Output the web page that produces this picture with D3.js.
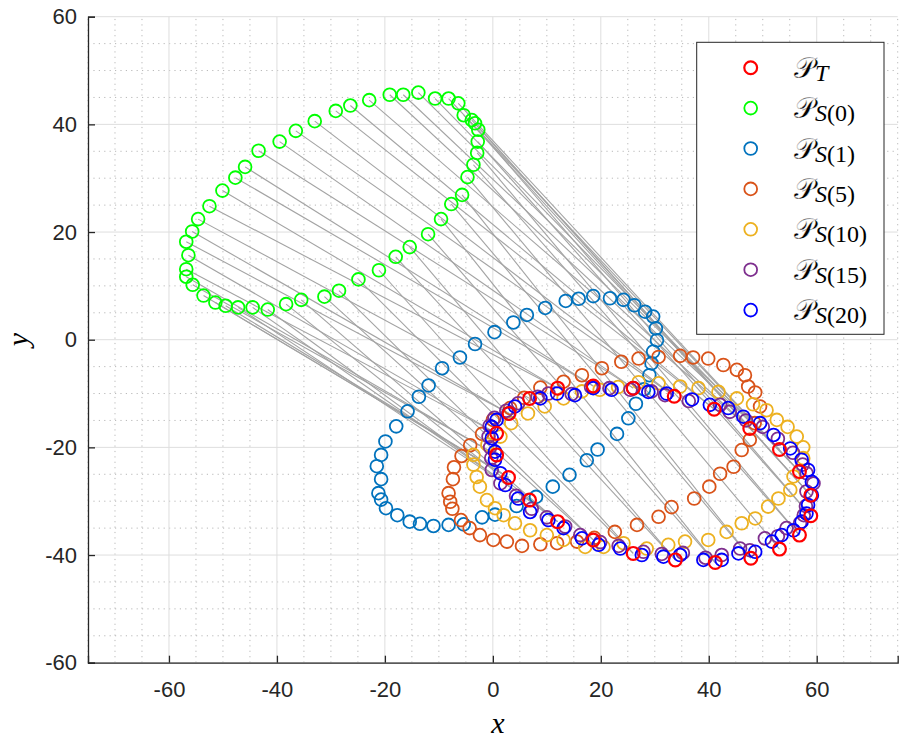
<!DOCTYPE html>
<html><head><meta charset="utf-8">
<script src="https://cdn.jsdelivr.net/npm/d3@7"></script>
<style>body{margin:0;background:#fff} svg{display:block}</style>
</head><body>
<svg id="chart" width="899" height="738"></svg>
<script>
// Target point set P_T
const pT = [[0.7,-17.4],[3.0,-13.7],[6.8,-10.9],[12.0,-9.0],[18.6,-8.6],[26.0,-9.0],[33.6,-10.5],[41.0,-12.9],[47.6,-16.5],[53.1,-20.4],[56.8,-24.5],[58.9,-28.9],[58.9,-32.7],[56.8,-36.3],[53.1,-38.9],[47.8,-40.6],[41.2,-41.4],[33.8,-40.9],[26.0,-39.7],[18.6,-37.2],[12.0,-33.8],[6.8,-29.8],[2.9,-25.6],[0.7,-21.4]];

// Source point set, initial pose S(0)
const pS0 = [[-19.1,45.5],[-16.6,45.5],[-13.8,45.9],[-10.7,44.8],[-8.2,44.8],[-6.4,43.9],[-5.4,41.7],[-3.9,40.8],[-3.3,40.2],[-2.7,39.0],[-2.8,36.8],[-2.9,34.7],[-3.6,32.5],[-4.7,30.2],[-5.7,26.9],[-7.7,25.2],[-9.6,22.4],[-12.0,19.6],[-15.4,17.2],[-18.0,15.4],[-21.1,12.9],[-24.9,11.2],[-28.5,9.1],[-31.2,8.0],[-35.5,7.4],[-38.3,6.6],[-41.7,5.6],[-44.5,6.0],[-47.2,6.0],[-49.5,6.3],[-51.4,6.9],[-53.6,8.2],[-55.6,10.2],[-56.8,11.7],[-56.8,13.1],[-56.4,15.7],[-56.8,18.2],[-55.7,20.1],[-54.6,22.4],[-52.5,24.8],[-50.1,27.7],[-47.7,30.1],[-45.9,32.1],[-43.4,35.1],[-39.5,36.8],[-36.5,38.8],[-33.0,40.6],[-29.1,42.5],[-26.4,43.5],[-22.9,44.5]];

// Index of the target point matched to each S(0) point
const pairs = [8,9,9,10,10,10,11,11,11,12,12,13,13,14,15,15,16,16,17,17,18,18,19,19,20,20,20,21,21,22,22,22,23,23,0,0,1,1,2,3,3,4,4,5,5,6,6,7,7,8];

// Iteration 1
const pS1 = [[-20.7,-21.4],[-19.9,-18.9],[-17.9,-16.1],[-15.8,-13.3],[-13.7,-10.6],[-11.9,-8.5],[-9.4,-5.3],[-6.1,-3.3],[-3.3,-0.8],[0.3,1.4],[3.8,3.2],[6.3,4.6],[9.7,5.9],[13.5,7.2],[15.9,7.6],[18.6,8.1],[21.7,7.7],[24.2,7.4],[26.2,6.4],[28.2,5.2],[29.7,4.3],[30.2,2.1],[30.4,-0.1],[29.7,-2.2],[29.4,-4.4],[29.0,-6.6],[28.0,-9.2],[26.5,-11.9],[25.1,-14.6],[23.0,-17.5],[19.4,-20.4],[17.4,-22.4],[14.2,-25.1],[11.1,-27.3],[8.0,-29.2],[4.4,-30.9],[0.4,-32.5],[-2.0,-33.0],[-5.4,-34.3],[-8.2,-34.4],[-11.0,-34.6],[-13.5,-34.2],[-15.4,-33.8],[-17.7,-32.6],[-19.8,-31.3],[-20.7,-29.7],[-21.2,-28.5],[-20.7,-25.9],[-21.5,-23.5]];

// Iteration 5
const pS5 = [[0.0,-14.9],[3.2,-12.7],[5.8,-10.8],[8.8,-8.9],[13.1,-7.8],[16.5,-6.6],[20.2,-5.3],[23.8,-4.1],[27.0,-3.5],[30.7,-3.2],[34.7,-3.0],[37.1,-3.3],[39.9,-3.5],[42.7,-4.7],[45.2,-5.6],[46.7,-6.6],[47.3,-8.7],[48.6,-9.8],[49.5,-12.4],[48.5,-15.5],[47.6,-18.6],[46.1,-20.5],[44.6,-23.6],[42.1,-24.9],[40.1,-27.3],[37.3,-29.5],[33.1,-31.1],[30.7,-32.9],[26.7,-34.4],[22.6,-35.7],[18.8,-36.8],[15.6,-37.5],[11.9,-37.8],[8.8,-38.0],[5.4,-38.3],[2.6,-37.5],[0.1,-37.2],[-2.4,-36.3],[-4.3,-35.0],[-5.9,-33.5],[-7.5,-31.4],[-7.9,-30.1],[-8.2,-28.5],[-7.4,-25.9],[-7.2,-23.7],[-5.8,-21.6],[-4.2,-19.6],[-2.0,-17.5]];

// Iteration 10
const pS10 = [[1.4,-18.0],[3.4,-15.5],[6.5,-13.7],[9.6,-12.4],[13.1,-10.9],[16.5,-9.6],[19.8,-9.3],[23.2,-8.8],[27.0,-7.9],[30.7,-8.1],[34.7,-8.7],[38.1,-9.0],[41.8,-9.7],[45.2,-10.9],[48.2,-12.0],[50.7,-13.1],[52.6,-14.9],[54.6,-16.2],[56.3,-18.0],[57.5,-20.0],[57.5,-22.0],[55.7,-25.4],[55.1,-27.9],[52.9,-29.5],[51.0,-31.0],[48.6,-33.2],[46.1,-34.1],[43.3,-35.7],[39.9,-37.2],[35.6,-37.5],[32.5,-38.1],[28.5,-38.8],[24.2,-37.8],[20.5,-38.5],[17.1,-38.5],[13.1,-37.2],[10.0,-36.3],[6.9,-35.4],[4.1,-34.1],[2.0,-32.6],[0.4,-31.3],[-1.1,-29.8],[-2.4,-27.3],[-3.0,-25.5],[-3.6,-23.2],[-3.6,-21.4],[-1.0,-19.5]];

// Iteration 15
const pS15 = [[-0.8,-18.0],[-0.6,-16.0],[0.3,-14.5],[2.5,-13.2],[4.7,-11.8],[8.3,-10.6],[10.3,-10.0],[14.6,-10.1],[18.2,-8.8],[21.6,-9.0],[25.5,-9.3],[29.4,-9.6],[31.9,-10.3],[36.3,-11.4],[42.1,-12.1],[43.9,-13.4],[46.9,-15.0],[50.0,-16.2],[52.8,-18.4],[55.6,-21.0],[57.4,-23.2],[58.1,-24.8],[59.4,-26.7],[58.1,-28.2],[58.0,-30.9],[57.6,-32.6],[56.9,-34.1],[54.4,-35.0],[52.8,-36.5],[50.4,-36.9],[47.6,-39.1],[45.8,-38.8],[42.4,-40.0],[39.4,-40.5],[35.2,-39.6],[31.3,-39.8],[27.9,-39.4],[23.3,-38.3],[19.9,-37.6],[16.2,-36.3],[13.4,-34.7],[10.0,-33.0],[7.2,-31.4],[4.3,-29.0],[1.4,-26.7],[-0.2,-24.2],[-0.3,-22.0],[-0.5,-20.0]];

// Iteration 20
const pS20 = [[-0.2,-18.3],[-0.2,-16.2],[0.7,-14.9],[2.9,-13.7],[4.1,-12.4],[8.8,-10.9],[11.9,-10.0],[15.2,-10.3],[18.6,-9.0],[22.0,-9.3],[26.0,-9.0],[28.8,-9.7],[32.2,-10.0],[36.9,-11.1],[40.2,-12.1],[43.6,-12.7],[46.4,-14.3],[49.5,-15.5],[52.0,-17.7],[55.1,-20.2],[57.2,-22.3],[58.4,-24.2],[59.1,-26.4],[59.1,-28.9],[58.4,-30.7],[58.1,-32.3],[57.2,-33.8],[55.7,-35.4],[53.5,-36.3],[51.7,-37.5],[48.6,-39.4],[45.5,-39.7],[42.4,-40.9],[39.0,-40.9],[34.7,-40.0],[31.6,-40.3],[27.6,-40.0],[23.6,-38.8],[19.6,-38.1],[16.5,-36.9],[13.1,-35.0],[10.3,-33.5],[6.9,-32.0],[4.7,-29.5],[2.3,-27.0],[1.4,-24.8],[0.4,-22.3],[0.4,-20.8]];

const xTicks = [-60,-40,-20,0,20,40,60];
const yTicks = [-60,-40,-20,0,20,40,60];

const legendRows = [
  {sub:[["T","i"]], color:"#ff0000", pts:pT},
  {sub:[["S","i"],["(0)","n"]], color:"#00ff00", pts:pS0},
  {sub:[["S","i"],["(1)","n"]], color:"#0072bd", pts:pS1},
  {sub:[["S","i"],["(5)","n"]], color:"#d95319", pts:pS5},
  {sub:[["S","i"],["(10)","n"]], color:"#edb120", pts:pS10},
  {sub:[["S","i"],["(15)","n"]], color:"#7e2f8e", pts:pS15},
  {sub:[["S","i"],["(20)","n"]], color:"#0000ff", pts:pS20}
];

const svg = d3.select("#chart");
const x = d3.scaleLinear().domain([-75, 75]).range([88, 897.7]);
const y = d3.scaleLinear().domain([-60, 60]).range([662.7, 16.7]);

// grid: dotted minor every 5, solid major every 20
const minor = d3.range(-75, 76, 5).filter(v => v % 20 !== 0);
const minorY = d3.range(-60, 61, 5).filter(v => v % 20 !== 0);
const grid = svg.append("g");
grid.selectAll(".mx").data(minor).join("line")
  .attr("x1", d => x(d)).attr("x2", d => x(d)).attr("y1", y(-60)).attr("y2", y(60))
  .attr("stroke", "#b8b8b8").attr("stroke-width", 1).attr("stroke-dasharray", "1.2,4.2");
grid.selectAll(".my").data(minorY).join("line")
  .attr("y1", d => y(d)).attr("y2", d => y(d)).attr("x1", x(-75)).attr("x2", x(75))
  .attr("stroke", "#b8b8b8").attr("stroke-width", 1).attr("stroke-dasharray", "1.2,4.2");
grid.selectAll(".Mx").data(xTicks).join("line")
  .attr("x1", d => x(d)).attr("x2", d => x(d)).attr("y1", y(-60)).attr("y2", y(60))
  .attr("stroke", "#dedede").attr("stroke-width", 1);
grid.selectAll(".My").data(yTicks).join("line")
  .attr("y1", d => y(d)).attr("y2", d => y(d)).attr("x1", x(-75)).attr("x2", x(75))
  .attr("stroke", "#dedede").attr("stroke-width", 1);

// correspondence lines S(0) -> T
svg.append("g").selectAll("line").data(pS0).join("line")
  .attr("x1", d => x(d[0])).attr("y1", d => y(d[1]))
  .attr("x2", (d, i) => x(pT[pairs[i]][0])).attr("y2", (d, i) => y(pT[pairs[i]][1]))
  .attr("stroke", "#a3a3a3").attr("stroke-width", 1.1);

// point sets: iterations first, target on top
const drawOrder = [1, 2, 3, 4, 5, 6, 0];
drawOrder.forEach(k => {
  const s = legendRows[k];
  svg.append("g").selectAll("circle").data(s.pts).join("circle")
    .attr("cx", d => x(d[0])).attr("cy", d => y(d[1])).attr("r", 6.4)
    .attr("fill", "none").attr("stroke", s.color).attr("stroke-width", k === 0 ? 2.2 : 1.8);
});

// axes
const tickFont = "'Liberation Sans', Arial, Helvetica, sans-serif";
const ax = svg.append("g").attr("transform", `translate(0,${y(-60)})`)
  .call(d3.axisBottom(x).tickValues(xTicks).tickSize(-7).tickPadding(19).tickFormat(d => String(d)));
const ay = svg.append("g").attr("transform", `translate(${x(-75)},0)`)
  .call(d3.axisLeft(y).tickValues(yTicks).tickSize(-7).tickPadding(11).tickFormat(d => String(d)));
[ax, ay].forEach(g => {
  g.select(".domain").attr("stroke", "#262626").attr("stroke-width", 1.3);
  g.selectAll(".tick line").attr("stroke", "#262626").attr("stroke-width", 1.3);
  g.selectAll(".tick text").attr("fill", "#262626").attr("font-family", tickFont).attr("font-size", 22);
});

// axis titles
svg.append("text").attr("x", x(0) + 5).attr("y", 733).attr("text-anchor", "middle")
  .attr("font-family", "'Liberation Serif', 'Times New Roman', serif").attr("font-style", "italic")
  .attr("font-size", 30).attr("fill", "#000").text("x");
svg.append("text").attr("transform", `translate(28,${y(0)}) rotate(-90)`).attr("text-anchor", "middle")
  .attr("font-family", "'Liberation Serif', 'Times New Roman', serif").attr("font-style", "italic")
  .attr("font-size", 30).attr("fill", "#000").text("y");

// legend
const lg = svg.append("g");
lg.append("rect").attr("x", 696.7).attr("y", 42.3).attr("width", 187.3).attr("height", 292)
  .attr("fill", "#fff").attr("stroke", "#262626").attr("stroke-width", 1);
legendRows.forEach((r, i) => {
  const cy = 67.7 + i * 40.4;
  lg.append("circle").attr("cx", 750.7).attr("cy", cy).attr("r", 6.4)
    .attr("fill", "none").attr("stroke", r.color).attr("stroke-width", i === 0 ? 2.2 : 1.8);
  const t = lg.append("text").attr("x", 794).attr("y", cy + 10)
    .attr("font-family", "'DejaVu Serif', 'Noto Sans', serif").attr("fill", "#000");
  t.append("tspan").attr("font-size", 29).attr("stroke", "#fff").attr("stroke-width", 0.35)
    .text("\u{1D4AB}");
  const s = t.append("tspan").attr("font-family", "'Liberation Serif', serif").attr("font-size", 24).attr("dy", 3);
  r.sub.forEach(p => s.append("tspan").attr("font-style", p[1] === "i" ? "italic" : "normal").text(p[0]));
});
</script>
</body></html>
